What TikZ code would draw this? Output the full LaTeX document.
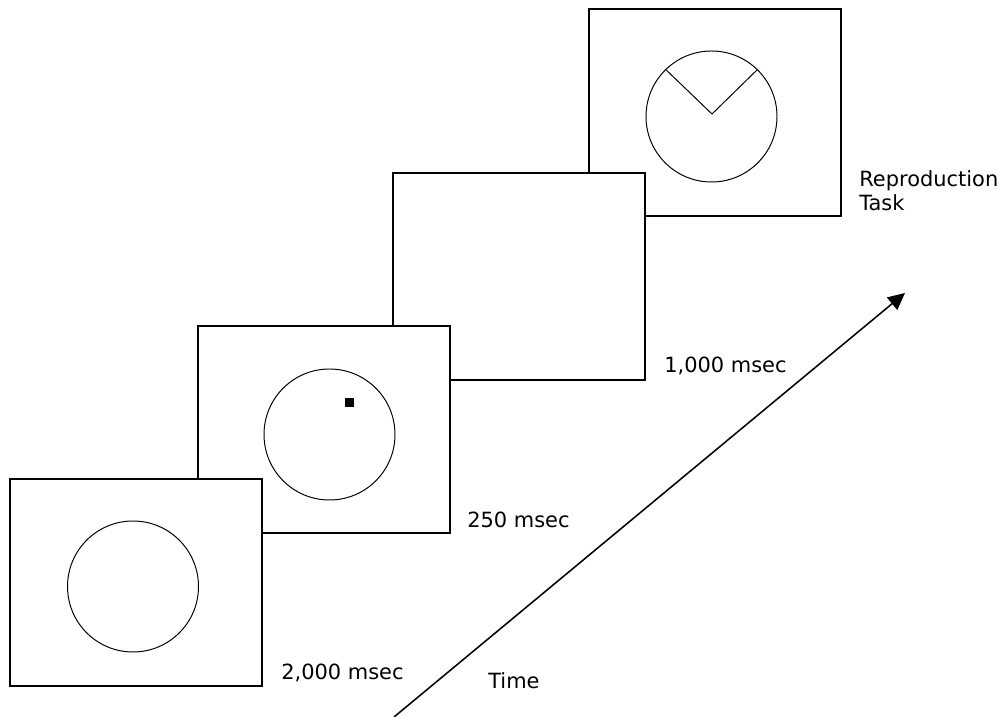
\documentclass[tikz,border=0pt]{standalone}
\usepackage{fontspec}
\setmainfont{DejaVu Sans}
\usetikzlibrary{arrows.meta}
\tikzset{
    screen/.style={draw, fill=white, line width=0.9pt},
    ring/.style={line width=0.7pt},
    timing/.style={anchor=base west, inner sep=0pt, font=\fontsize{14.9}{17.7}\selectfont}
}
\begin{document}
\begin{tikzpicture}
    \useasboundingbox (0,0) rectangle (25.05,17.925);
    % Screens, back to front
    \foreach \x/\y in {14.725/12.525, 9.825/8.425, 4.95/4.6, 0.25/0.775}{
        \draw[screen] (\x,\y) rectangle ++(6.3,5.175);
    }
    % Fixation, cue and reproduction dial
    \coordinate (fixc) at (3.325,3.2625);
    \coordinate (cuec) at (8.2375,7.0625);
    \coordinate (dial) at (17.7875,15.0125);
    \draw[ring] (fixc) circle (1.6375);
    \draw[ring] (cuec) circle (1.6375);
    \fill (8.7375,7.8625) +(-0.11,-0.11) rectangle +(0.11,0.11);
    \draw[ring] (dial) circle (1.6375);
    \draw[ring] (16.66,16.17) -- (17.8,15.075) -- (18.92,16.17);
    % Durations
    \node[timing] (fix) at (7.025,0.925) {2,000 msec};
    \node[timing] (cue) at (11.675,4.725) {250 msec};
    \node[timing] (blank) at (16.6,8.6) {1,000 msec};
    \node[timing, align=left] (task) at (21.475,12.65) {Reproduction\\Task};
    % Time axis
    \coordinate (t0) at (9.85,0);
    \coordinate (t1) at (22.625,10.6);
    \draw[line width=1.1pt, -{Triangle[length=0.42cm, width=0.4cm]}] (t0) -- (t1);
    \node[timing] (time) at (12.2,0.7) {Time};
\end{tikzpicture}
\end{document}
